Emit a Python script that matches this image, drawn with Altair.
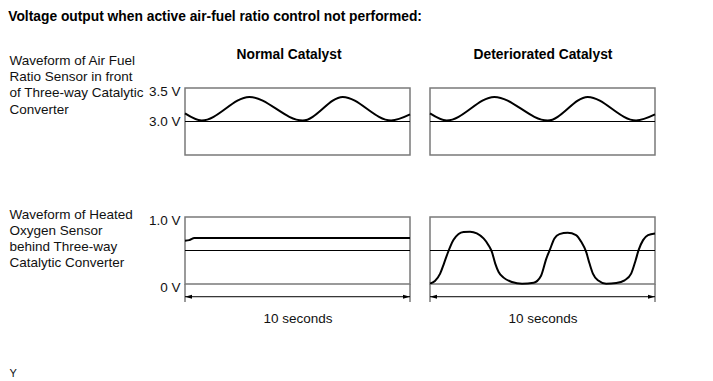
import altair as alt
import pandas as pd

# ---------------- text ----------------
main_title = "Voltage output when active air-fuel ratio control not performed:"
col_titles = ["Normal Catalyst", "Deteriorated Catalyst"]
row1_label = ["Waveform of Air Fuel", "Ratio Sensor in front", "of Three-way Catalytic", "Converter"]
row2_label = ["Waveform of Heated", "Oxygen Sensor", "behind Three-way", "Catalytic Converter"]
time_label = "10 seconds"
footnote = "Y"

# ---------------- data ----------------
span_s = [0, 10]  # time span of each panel (seconds)

# Air fuel ratio sensor (same for both catalysts)
af_t = [0, 0.74, 2.86, 5.23, 7.01, 9.16, 10]
af_v = [3.12, 3.015, 3.367, 3.015, 3.367, 3.015, 3.105]
af_ticks = [3.0, 3.5]
af_ref = [3.0]
af_domain = [2.5, 3.5]

# Heated oxygen sensor - normal catalyst
ho2n_t = [0, 0.19, 0.42, 1.5, 10]
ho2n_v = [0.645, 0.655, 0.685, 0.685, 0.685]

# Heated oxygen sensor - deteriorated catalyst
ho2d_t = [0, 0.22, 0.45, 0.62, 0.78, 1.04, 1.27, 1.49, 1.78, 2.08, 2.38, 2.60, 2.75, 2.90,
          3.05, 3.27, 3.64, 4.09, 4.61, 4.93, 5.17, 5.32, 5.53, 5.75, 6.12, 6.49, 6.72,
          6.94, 7.09, 7.24, 7.46, 7.83, 8.28, 8.65, 8.94, 9.14, 9.27, 9.47, 9.69, 10]
ho2d_v = [0.005, 0.045, 0.155, 0.305, 0.455, 0.655, 0.745, 0.775, 0.78, 0.755, 0.68, 0.58, 0.48, 0.305,
          0.18, 0.095, 0.03, 0.005, 0.02, 0.12, 0.38, 0.505, 0.68, 0.745, 0.765, 0.73, 0.63,
          0.48, 0.305, 0.155, 0.055, 0.005, 0.015, 0.055, 0.155, 0.355, 0.505, 0.655, 0.73, 0.755]
ho2_ticks = [0, 1.0]
ho2_ref = [0.5]
ho2_domain = [0, 1]

# ---------------- style ----------------
FONT = "Liberation Sans"
W, H = 225, 67
BOX = "#7a7a7a"
INK = "#111111"
ARROW_L = "M0,0L2,-0.6L2,0.6Z"
ARROW_R = "M0,0L-2,-0.6L-2,0.6Z"

NOAXIS = dict(labels=False, ticks=False, domain=False, grid=False)


def value_axis(row_label, label_y, label_offset, ticks):
    return alt.Axis(
        values=ticks,
        labelExpr="datum.value == 0 ? '0 V' : format(datum.value, '.1f') + ' V'",
        title=row_label, titleAngle=0, titleAlign="left", titleBaseline="alphabetic",
        titleX=-176, titleY=label_y, titleFont=FONT, titleFontSize=13.5,
        titleFontWeight="normal", titleLineHeight=16.3, titleColor=INK,
        labelFont=FONT, labelFontSize=13.5, labelColor=INK, labelPadding=5,
        labelFlush=False, labelOverlap=False, labelOffset=label_offset,
        domain=False, ticks=False, grid=False,
    )


def column_axis(text, dx):
    return alt.Axis(orient="top", title=text, titleFont=FONT, titleFontSize=13.8,
                    titleFontWeight="bold", titleColor="#000", titleX=W / 2 + dx, titleY=-30,
                    titleAlign="center", titleBaseline="alphabetic", **NOAXIS)


def time_axis():
    return alt.Axis(title=time_label, titleFont=FONT, titleFontSize=13.5, titleFontWeight="normal",
                    titleColor=INK, titleX=W / 2, titleY=38.8, titleAlign="center",
                    titleBaseline="alphabetic", **NOAXIS)


def foot_axis():
    return alt.Axis(title=footnote, titleAngle=0, titleAlign="left", titleBaseline="alphabetic",
                    titleX=-421, titleY=159.8, titleFont=FONT, titleFontSize=11,
                    titleFontWeight="normal", titleColor=INK, **NOAXIS)


def panel(t, v, domain, ref, xaxis, yaxis, bottom):
    xs = alt.Scale(domain=span_s, nice=False, padding=0)
    ys = alt.Scale(domain=domain, nice=False, zero=False)

    df = pd.DataFrame({"t": t, "v": v})
    wave = alt.Chart(df).mark_line(color="#000", strokeWidth=2, interpolate="monotone").encode(
        x=alt.X("t:Q", scale=xs, axis=xaxis),
        y=alt.Y("v:Q", scale=ys, axis=yaxis),
    )
    refl = alt.Chart(pd.DataFrame({"v": ref})).mark_rule(color="#000", strokeWidth=1).encode(
        y=alt.Y("v:Q", scale=ys, axis=yaxis)
    )
    layers = [wave, refl]
    if bottom:
        ends = pd.DataFrame({"t": span_s, "dir": ["left", "right"]})
        ext = alt.Chart(ends).mark_rule(color=BOX, strokeWidth=1.5).encode(
            x=alt.X("t:Q", scale=xs, axis=xaxis),
            y=alt.datum(0), y2=alt.datum(-0.27),
        )
        line = alt.Chart(pd.DataFrame({"t0": [span_s[0]], "t1": [span_s[1]]})).mark_rule(
            color="#000", strokeWidth=1).encode(
            x=alt.X("t0:Q", scale=xs, axis=xaxis), x2="t1:Q", y=alt.datum(-0.19),
        )
        heads = alt.Chart(ends).mark_point(filled=True, size=49, opacity=1, color="#000").encode(
            x=alt.X("t:Q", scale=xs, axis=xaxis),
            y=alt.datum(-0.19),
            shape=alt.Shape("dir:N", scale=alt.Scale(domain=["left", "right"], range=[ARROW_L, ARROW_R]),
                            legend=None),
        )
        layers += [ext, line, heads]
    return alt.layer(*layers).properties(width=W, height=H)


top_off = {"condition": {"test": "datum.value == 3.5", "value": 3}, "value": 0}

tl = panel(af_t, af_v, af_domain, af_ref, column_axis(col_titles[0], -9),
           value_axis(row1_label, -23.7, top_off, af_ticks), False)
tr = panel(af_t, af_v, af_domain, af_ref, column_axis(col_titles[1], 0), None, False)
bl = panel(ho2n_t, ho2n_v, ho2_domain, ho2_ref, time_axis(),
           value_axis(row2_label, 1, 3.5, ho2_ticks), True)
br = panel(ho2d_t, ho2d_v, ho2_domain, ho2_ref, time_axis(), foot_axis(), True)

chart = alt.concat(tl, tr, bl, br, columns=2, spacing={"row": 62, "column": 20}, bounds="flush").properties(
    title=alt.TitleParams(main_title, anchor="start", frame="bounds", font=FONT,
                          fontSize=13.8, fontWeight="bold", color="#000", offset=11,
                          baseline="alphabetic"),
    padding={"left": 0, "top": 2, "right": 5, "bottom": 0},
).configure(
    background="white",
    view=alt.ViewConfig(stroke=BOX, strokeWidth=1.5),
)

chart.save("out.html", embed_options={"renderer": "svg", "actions": False})
